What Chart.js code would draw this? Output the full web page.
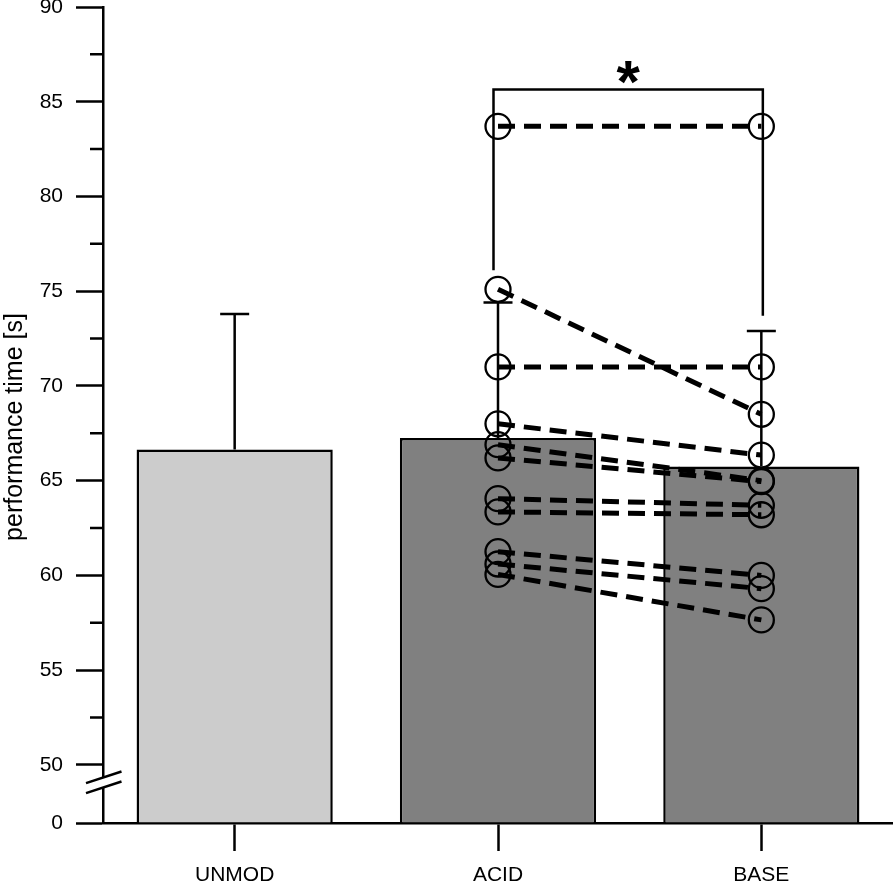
<!DOCTYPE html>
<html>
<head>
<meta charset="utf-8">
<title>performance time</title>
<script src="https://cdn.jsdelivr.net/npm/chart.js@4.4.1/dist/chart.umd.min.js"></script>
<style>
  html, body { margin: 0; padding: 0; background: #fff; }
  canvas { display: block; }
</style>
</head>
<body>
<canvas id="perfChart" width="893" height="885"></canvas>
<script>
// Groups, bar means and upper error bar ends
const categories = ['UNMOD', 'ACID', 'BASE'];
const means = [66.65, 67.25, 65.75];
const errTops = [73.8, 74.4, 72.9];
const barColors = ['#cccccc', '#808080', '#808080'];

// Paired trials, ACID -> BASE
const acidTimes = [83.7, 75.1, 71.0, 68.0, 66.9, 66.2, 64.05, 63.35, 61.25, 60.6, 60.05];
const baseTimes = [83.7, 68.5, 71.0, 66.35, 65.0, 64.95, 63.7, 63.2, 60.0, 59.3, 57.65];

// Broken y axis: the bottom of the axis reads 0
const yBottom = 46.93;
const yTicks = [50, 55, 60, 65, 70, 75, 80, 85, 90];
const yMinorTicks = [52.5, 57.5, 62.5, 67.5, 72.5, 77.5, 82.5, 87.5];
const yTitle = 'performance time [s]';

// Significance bracket between ACID and BASE
const sigTop = 85.65;
const sigLeftEnd = 76.1;
const sigRightEnd = 73.7;

const FONT = "'Liberation Sans', Arial, Helvetica, sans-serif";
const LW = 2.5;

const decorations = {
    id: 'decorations',
    afterDatasetDraw(chart, args) {
        if (args.index !== 0) return;
        // error bars (upper only) drawn right after the bars
        const { ctx, scales: { x, y } } = chart;
        ctx.save();
        ctx.strokeStyle = '#000';
        ctx.lineWidth = LW;
        errTops.forEach((top, i) => {
            const px = x.getPixelForValue(i);
            const y0 = y.getPixelForValue(means[i]);
            const y1 = y.getPixelForValue(top);
            ctx.beginPath();
            ctx.moveTo(px, y0);
            ctx.lineTo(px, y1);
            ctx.moveTo(px - 14.5, y1);
            ctx.lineTo(px + 14.5, y1);
            ctx.stroke();
        });
        ctx.restore();
    },
    afterDatasetsDraw(chart) {
        const { ctx, scales: { x, y } } = chart;
        const xl = x.getPixelForValue(1) - 4.5;
        const xr = x.getPixelForValue(2) + 1.5;
        const yt = y.getPixelForValue(sigTop);
        ctx.save();
        ctx.strokeStyle = '#000';
        ctx.lineWidth = LW;
        ctx.beginPath();
        ctx.moveTo(xl, y.getPixelForValue(sigLeftEnd));
        ctx.lineTo(xl, yt);
        ctx.lineTo(xr, yt);
        ctx.lineTo(xr, y.getPixelForValue(sigRightEnd));
        ctx.stroke();

        // asterisk centred above the bracket
        ctx.fillStyle = '#000';
        ctx.font = 'bold 60px ' + FONT;
        ctx.textAlign = 'center';
        ctx.textBaseline = 'alphabetic';
        const m = ctx.measureText('*');
        const cy = yt - 17;
        ctx.fillText('*', (xl + xr) / 2, cy + (m.actualBoundingBoxAscent - m.actualBoundingBoxDescent) / 2);
        ctx.restore();
    },
    afterDraw(chart) {
        const { ctx, scales: { y } } = chart;
        const ax = y.right;
        ctx.save();
        ctx.strokeStyle = '#000';
        ctx.lineWidth = LW;
        // minor ticks
        ctx.beginPath();
        yMinorTicks.forEach(v => {
            const py = y.getPixelForValue(v);
            ctx.moveTo(ax - 13, py);
            ctx.lineTo(ax, py);
        });
        ctx.stroke();

        // axis break marks between 0 and 50
        const p50 = y.getPixelForValue(50);
        const p0 = y.getPixelForValue(yBottom);
        const cy = p50 + (p0 - p50) * 0.3;
        const x1 = ax - 17, x2 = ax + 18.5;
        const ya = cy + 5.8, yb = cy - 5.8;
        ctx.fillStyle = '#fff';
        ctx.beginPath();
        ctx.moveTo(x1, ya - 5);
        ctx.lineTo(x2, yb - 5);
        ctx.lineTo(x2, yb + 5);
        ctx.lineTo(x1, ya + 5);
        ctx.closePath();
        ctx.fill();
        ctx.beginPath();
        ctx.moveTo(x1, ya - 5);
        ctx.lineTo(x2, yb - 5);
        ctx.moveTo(x1, ya + 5);
        ctx.lineTo(x2, yb + 5);
        ctx.stroke();

        // y axis title
        ctx.fillStyle = '#000';
        ctx.font = '25px ' + FONT;
        ctx.textAlign = 'center';
        ctx.textBaseline = 'middle';
        ctx.translate(15, 427);
        ctx.rotate(-Math.PI / 2);
        ctx.fillText(yTitle, 0, 0);
        ctx.restore();
    }
};

const pairSets = acidTimes.map((a, i) => ({
    type: 'line',
    data: [{ x: 1, y: a }, { x: 2, y: baseTimes[i] }],
    borderColor: '#000',
    borderWidth: 5,
    borderDash: [17, 9],
    pointRadius: 12.5,
    pointBorderWidth: 2.3,
    pointBorderColor: '#000',
    pointBackgroundColor: 'rgba(0,0,0,0)',
    order: 0
}));

const ctx = document.getElementById('perfChart').getContext('2d');
new Chart(ctx, {
    type: 'bar',
    data: {
        datasets: [{
            type: 'bar',
            data: means.map((m, i) => ({ x: i, y: m })),
            base: yBottom,
            backgroundColor: barColors,
            borderColor: '#000',
            borderWidth: LW,
            barPercentage: 0.745,
            categoryPercentage: 1,
            order: 1
        }, ...pairSets]
    },
    options: {
        responsive: false,
        devicePixelRatio: 1,
        animation: false,
        layout: { autoPadding: false, padding: { top: 7, right: 0, bottom: 0, left: 0 } },
        plugins: {
            legend: { display: false },
            tooltip: { enabled: false }
        },
        scales: {
            x: {
                type: 'linear',
                offset: false,
                min: -0.5,
                max: 2.5,
                afterBuildTicks: s => { s.ticks = categories.map((_, i) => ({ value: i })); },
                ticks: {
                    callback: v => categories[v],
                    font: { family: FONT, size: 21 },
                    color: '#000',
                    padding: 12,
                    autoSkip: false,
                    maxRotation: 0
                },
                grid: { offset: false, drawOnChartArea: false, tickLength: 28, tickWidth: LW, tickColor: '#000' },
                border: { display: true, color: '#000', width: LW },
                afterFit: s => { s.height = 62; s.paddingLeft = 0; s.paddingRight = 0; }
            },
            y: {
                type: 'linear',
                min: yBottom,
                max: 90,
                afterBuildTicks: s => { s.ticks = [yBottom, ...yTicks].map(v => ({ value: v })); },
                ticks: {
                    callback: v => (v === yBottom ? '0' : String(v)),
                    font: { family: FONT, size: 21 },
                    color: '#000',
                    padding: 13
                },
                grid: { drawOnChartArea: false, tickLength: 27, tickWidth: LW, tickColor: '#000' },
                border: { display: true, color: '#000', width: LW },
                afterFit: s => { s.width = 103; s.paddingTop = 0; s.paddingBottom = 0; }
            }
        }
    },
    plugins: [decorations]
});
</script>
</body>
</html>
